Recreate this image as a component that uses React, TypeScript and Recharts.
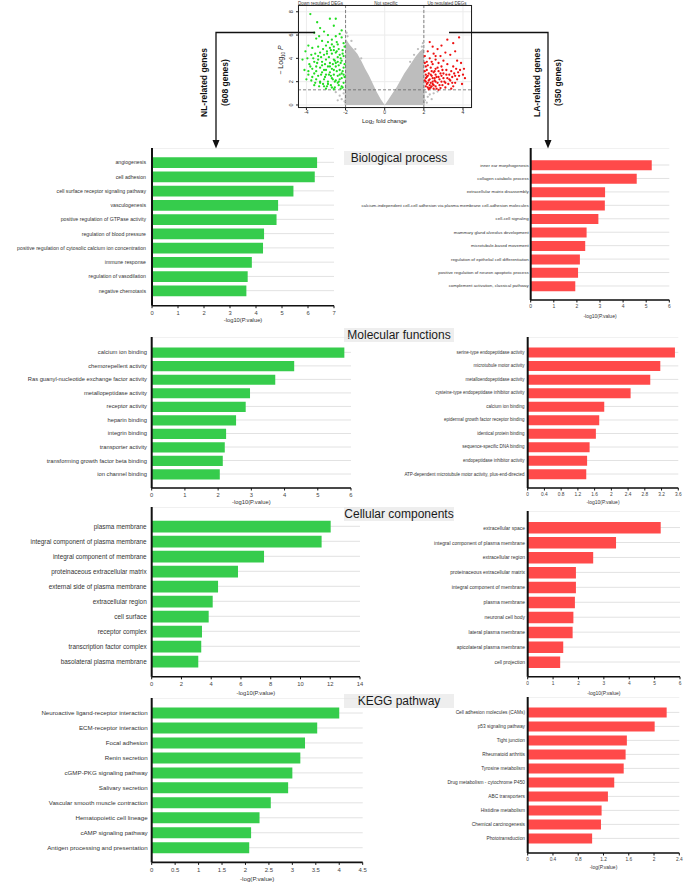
import React from "react";
import {
  Area,
  Bar,
  BarChart,
  CartesianGrid,
  ComposedChart,
  ReferenceLine,
  Scatter,
  XAxis,
  YAxis,
} from "recharts";

const FONT = '"Liberation Sans", Arial, sans-serif';
const GREEN = "#36cc4c";
const RED = "#ff4a4a";
const GRAY = "#bdbdbd";

// ---- volcano plot ----
const notSpecificX = [-2.05, -2.0, -1.8, -1.6, -1.4, -1.2, -1.0, -0.8, -0.6, -0.4, -0.2, 0, 0.2, 0.4, 0.6, 0.8, 1.0, 1.2, 1.4, 1.6, 1.8, 2.0, 2.05];
const notSpecificTop = [0, 5.7, 5.2, 4.8, 4.4, 3.8, 3.1, 2.5, 1.8, 1.1, 0.5, 0, 0.5, 1.0, 1.5, 2.1, 2.7, 3.2, 3.7, 4.2, 4.6, 4.9, 0];
const notSpecificPts: [number, number][] = [
  [2.1, 1.1], [2.3, 0.9], [2.5, 1.0], [2.2, 0.7], [2.4, 0.5], [2.05, 0.4], [2.7, 1.15], [2.15, 0.2],
  [-2.1, 1.0], [-2.3, 0.8], [-2.2, 0.5], [-2.5, 1.1], [-2.05, 0.3], [-2.4, 0.4],
  [-1.9, 5.9], [-1.7, 5.5], [-1.95, 6.2], [1.9, 5.0], [1.7, 4.8], [1.95, 5.3], [-1.5, 4.8], [1.5, 4.3], [-1.2, 4.0], [1.3, 3.7],
];
const downRegulated: [number, number][] = [
  [-3.8, 7.8], [-3.45, 7.1], [-2.8, 7.4], [-2.5, 7.4], [-3.3, 6.6], [-2.6, 6.8], [-3.6, 6.2], [-3.1, 6.3], [-2.9, 6.0], [-2.3, 6.1],
  [-2.2, 5.8], [-3.5, 5.7], [-3.2, 5.5], [-2.7, 5.6], [-2.45, 5.4], [-2.1, 5.3], [-4.05, 4.6], [-3.9, 5.1], [-3.7, 4.9], [-3.4, 5.0],
  [-3.0, 5.1], [-2.8, 4.9], [-2.6, 5.0], [-2.35, 4.8], [-2.15, 4.7], [-4.2, 3.9], [-3.95, 4.0], [-3.75, 4.3], [-3.55, 4.4], [-3.3, 4.5],
  [-3.1, 4.3], [-2.95, 4.6], [-2.7, 4.4], [-2.5, 4.5], [-2.3, 4.3], [-2.1, 4.2], [-3.85, 3.5], [-3.6, 3.7], [-3.4, 3.9], [-3.2, 3.7],
  [-3.0, 3.9], [-2.8, 3.6], [-2.6, 3.9], [-2.4, 3.7], [-2.2, 3.8], [-2.05, 3.5], [-4.1, 3.0], [-3.7, 3.1], [-3.5, 3.3], [-3.3, 3.2],
  [-3.1, 3.0], [-2.9, 3.3], [-2.7, 3.1], [-2.5, 3.3], [-2.3, 3.0], [-2.1, 3.2], [-3.9, 2.6], [-3.6, 2.7], [-3.4, 2.5], [-3.2, 2.8],
  [-3.0, 2.6], [-2.8, 2.8], [-2.6, 2.6], [-2.4, 2.5], [-2.2, 2.7], [-2.05, 2.4], [-4.0, 2.2], [-3.75, 2.1], [-3.5, 2.2], [-3.3, 2.0],
  [-3.1, 2.2], [-2.9, 2.0], [-2.7, 2.3], [-2.5, 2.1], [-2.3, 2.2], [-2.1, 1.9], [-3.6, 1.7], [-3.35, 1.6], [-3.15, 1.8], [-2.95, 1.6],
  [-2.75, 1.7], [-2.55, 1.5], [-2.35, 1.7], [-2.15, 1.5], [-3.0, 1.4], [-2.6, 1.35], [-2.25, 1.4], [-2.45, 2.9], [-2.65, 3.5], [-2.85, 4.1],
  [-2.25, 4.0], [-2.4, 4.1], [-2.55, 2.0], [-2.75, 2.5], [-2.2, 2.3], [-2.35, 3.4], [-2.15, 2.9], [-3.05, 3.5], [-3.25, 4.1], [-2.5, 5.9],
  [-2.05, 5.0], [-2.15, 4.4], [-2.25, 3.6], [-2.3, 2.6], [-2.4, 1.9], [-2.45, 4.6], [-2.55, 3.8], [-2.6, 3.0], [-2.65, 2.2], [-2.7, 1.5],
  [-2.75, 4.7], [-2.8, 3.3], [-2.85, 2.6], [-2.9, 1.8], [-2.95, 4.4], [-3.0, 3.0], [-3.05, 2.4], [-3.1, 1.6], [-3.15, 4.8], [-3.2, 3.4],
  [-3.25, 2.6], [-3.3, 1.9], [-3.4, 4.2], [-3.45, 3.6], [-3.5, 2.9], [-3.55, 1.9], [-3.65, 4.0], [-3.7, 2.4], [-3.8, 3.3], [-3.9, 2.9],
  [-2.1, 2.6], [-2.2, 1.6], [-2.35, 2.0], [-2.5, 3.6], [-2.6, 4.7], [-2.9, 5.4], [-3.35, 5.9], [-2.4, 5.2], [-2.7, 5.2], [-2.2, 6.4],
];
const upRegulated: [number, number][] = [
  [3.8, 5.8], [3.2, 5.6], [3.5, 5.3], [2.3, 5.4], [2.45, 5.0], [2.9, 5.1], [3.6, 4.6], [2.7, 4.8], [2.2, 4.6], [3.1, 4.5],
  [3.35, 4.3], [2.5, 4.4], [2.05, 4.2], [2.85, 4.2], [3.9, 3.6], [3.7, 3.8], [2.3, 4.0], [2.6, 3.9], [3.0, 3.8], [2.15, 3.7],
  [2.45, 3.5], [2.75, 3.6], [3.2, 3.5], [3.5, 3.3], [4.05, 3.1], [3.85, 3.0], [2.1, 3.3], [2.35, 3.2], [2.6, 3.1], [2.9, 3.3],
  [3.15, 3.0], [3.4, 2.9], [3.65, 3.1], [2.05, 2.9], [2.25, 2.7], [2.5, 2.8], [2.75, 2.9], [3.0, 2.7], [3.3, 2.6], [3.55, 2.7],
  [3.8, 2.5], [4.1, 2.3], [2.15, 2.4], [2.4, 2.5], [2.65, 2.4], [2.9, 2.5], [3.2, 2.3], [3.45, 2.4], [3.7, 2.2], [2.05, 2.1],
  [2.3, 2.2], [2.55, 2.1], [2.8, 2.2], [3.05, 2.0], [3.35, 2.1], [3.6, 1.9], [3.95, 1.8], [2.2, 1.9], [2.45, 1.8], [2.7, 1.9],
  [2.95, 1.7], [3.25, 1.8], [3.5, 1.6], [2.1, 1.6], [2.35, 1.5], [2.6, 1.6], [2.85, 1.45], [3.1, 1.5], [3.4, 1.4], [2.25, 1.35],
  [2.5, 1.4], [2.75, 1.3], [2.15, 3.0], [2.4, 2.9], [2.2, 2.5], [2.6, 2.6], [2.3, 1.7], [2.55, 2.3], [2.1, 2.0], [2.45, 2.0],
  [2.05, 3.6], [2.1, 2.6], [2.15, 1.8], [2.2, 3.4], [2.25, 2.1], [2.3, 1.45], [2.35, 2.6], [2.4, 3.7], [2.45, 2.3], [2.5, 1.7],
  [2.55, 2.9], [2.6, 2.0], [2.65, 1.4], [2.7, 3.2], [2.75, 2.4], [2.8, 1.7], [2.85, 2.7], [2.9, 2.0], [2.95, 3.0], [3.0, 2.3],
  [3.1, 1.9], [3.15, 2.6], [3.3, 2.2], [3.45, 1.9], [3.6, 2.5], [3.75, 2.8], [2.2, 1.5], [2.4, 1.6], [2.1, 2.3], [2.35, 1.9],
  [4.0, 2.6], [2.6, 4.2],
];
const volcanoXTicks = [-4, -2, 0, 2, 4];
const volcanoYTicks = [0, 2, 4, 6, 8];

// ---- GO / KEGG enrichment ----
const bpNlTerms = [
  "angiogenesis", "cell adhesion", "cell surface receptor signaling pathway", "vasculogenesis",
  "positive regulation of GTPase activity", "regulation of blood pressure",
  "positive regulation of cytosolic calcium ion concentration", "immune response",
  "regulation of vasodilation", "negative chemotaxis",
];
const bpNlValues = [6.35, 6.26, 5.44, 4.85, 4.79, 4.31, 4.27, 3.84, 3.68, 3.63];
const bpLaTerms = [
  "inner ear morphogenesis", "collagen catabolic process", "extracellular matrix disassembly",
  "calcium-independent cell-cell adhesion via plasma membrane cell-adhesion molecules",
  "cell-cell signaling", "mammary gland alveolus development", "microtubule-based movement",
  "regulation of epithelial cell differentiation", "positive regulation of neuron apoptotic process",
  "complement activation, classical pathway",
];
const bpLaValues = [5.24, 4.59, 3.22, 3.21, 2.93, 2.42, 2.36, 2.13, 2.05, 1.93];

const mfNlTerms = [
  "calcium ion binding", "chemorepellent activity", "Ras guanyl-nucleotide exchange factor activity",
  "metallopeptidase activity", "receptor activity", "heparin binding", "integrin binding",
  "transporter activity", "transforming growth factor beta binding", "ion channel binding",
];
const mfNlValues = [5.8, 4.29, 3.72, 2.96, 2.83, 2.54, 2.24, 2.2, 2.14, 2.05];
const mfLaTerms = [
  "serine-type endopeptidase activity", "microtubule motor activity", "metalloendopeptidase activity",
  "cysteine-type endopeptidase inhibitor activity", "calcium ion binding",
  "epidermal growth factor receptor binding", "identical protein binding", "sequence-specific DNA binding",
  "endopeptidase inhibitor activity", "ATP-dependent microtubule motor activity, plus-end-directed",
];
const mfLaValues = [3.52, 3.17, 2.93, 2.46, 1.83, 1.71, 1.63, 1.48, 1.42, 1.4];

const ccNlTerms = [
  "plasma membrane", "integral component of plasma membrane", "integral component of membrane",
  "proteinaceous extracellular matrix", "external side of plasma membrane", "extracellular region",
  "cell surface", "receptor complex", "transcription factor complex", "basolateral plasma membrane",
];
const ccNlValues = [12.03, 11.42, 7.55, 5.8, 4.46, 4.1, 3.83, 3.38, 3.33, 3.13];
const ccLaTerms = [
  "extracellular space", "integral component of plasma membrane", "extracellular region",
  "proteinaceous extracellular matrix", "integral component of membrane", "plasma membrane",
  "neuronal cell body", "lateral plasma membrane", "apicolateral plasma membrane", "cell projection",
];
const ccLaValues = [5.24, 3.48, 2.58, 1.9, 1.9, 1.86, 1.8, 1.77, 1.4, 1.28];

const keggNlTerms = [
  "Neuroactive ligand-receptor interaction", "ECM-receptor interaction", "Focal adhesion",
  "Renin secretion", "cGMP-PKG signaling pathway", "Salivary secretion",
  "Vascular smooth muscle contraction", "Hematopoietic cell lineage", "cAMP signaling pathway",
  "Antigen processing and presentation",
];
const keggNlValues = [4.0, 3.53, 3.27, 3.17, 3.0, 2.91, 2.54, 2.3, 2.12, 2.08];
const keggLaTerms = [
  "Cell adhesion molecules (CAMs)", "p53 signaling pathway", "Tight junction", "Rheumatoid arthritis",
  "Tyrosine metabolism", "Drug metabolism - cytochrome P450", "ABC transporters",
  "Histidine metabolism", "Chemical carcinogenesis", "Phototransduction",
];
const keggLaValues = [2.2, 2.01, 1.57, 1.55, 1.52, 1.37, 1.27, 1.17, 1.16, 1.02];

const ticks7 = [0, 1, 2, 3, 4, 5, 6, 7];
const ticks6 = [0, 1, 2, 3, 4, 5, 6];
const ticks36 = [0, 0.4, 0.8, 1.2, 1.6, 2, 2.4, 2.8, 3.2, 3.6];
const ticks14 = [0, 2, 4, 6, 8, 10, 12, 14];
const ticks45 = [0, 0.5, 1, 1.5, 2, 2.5, 3, 3.5, 4, 4.5];
const ticks24 = [0, 0.4, 0.8, 1.2, 1.6, 2, 2.4];

type PanelProps = {
  names: string[];
  values: number[];
  color: string;
  left: number;
  axisX: number;
  plotRight: number;
  plotTop: number;
  plotBottom: number;
  padTop: number;
  padBottom: number;
  barSize: number;
  ticks: number[];
  labelSize: number;
  tickFont: number;
  gap: number;
  xLabel: string;
  xLabelY: number;
  xLabelSize: number;
};

const Panel = (p: PanelProps) => {
  const data = p.names.map((name, i) => ({ name, value: p.values[i] }));
  const height = p.xLabelY + 6 - p.plotTop;
  const width = p.plotRight - p.left + 10;
  const xAxisHeight = height - (p.plotBottom - p.plotTop);
  const labelX = (p.axisX + p.plotRight) / 2 - p.left;
  return (
    <div style={{ position: "absolute", left: p.left, top: p.plotTop }}>
      <BarChart
        layout="vertical"
        width={width}
        height={height}
        data={data}
        margin={{ top: 0, right: 10, left: 0, bottom: 0 }}
      >
        <CartesianGrid vertical={false} stroke="#e2e2e2" />
        <XAxis
          type="number"
          domain={[0, p.ticks[p.ticks.length - 1]]}
          ticks={p.ticks}
          interval={0}
          allowDataOverflow
          height={xAxisHeight}
          axisLine={{ stroke: "#111", strokeWidth: 1.6 }}
          tickLine={{ stroke: "#111" }}
          tickSize={2.5}
          tick={({ x, y, payload }: any) => (
            <text x={x} y={y + p.tickFont * 0.8} textAnchor="middle" fontSize={p.tickFont} fill="#444" fontFamily={FONT}>
              {payload.value}
            </text>
          )}
          label={{
            content: () => (
              <text
                x={labelX}
                y={p.xLabelY - p.plotTop}
                textAnchor="middle"
                dominantBaseline="central"
                fontSize={p.xLabelSize}
                fill="#333"
                fontFamily={FONT}
              >
                {p.xLabel}
              </text>
            ),
          }}
        />
        <YAxis
          type="category"
          dataKey="name"
          width={p.axisX - p.left}
          padding={{ top: p.padTop, bottom: p.padBottom }}
          interval={0}
          axisLine={{ stroke: "#111", strokeWidth: 2 }}
          tickLine={false}
          tickSize={0}
          tickMargin={p.gap}
          tick={({ x, y, payload }: any) => (
            <text x={x} y={y} textAnchor="end" dominantBaseline="central" fontSize={p.labelSize} fill="#333" fontFamily={FONT}>
              {payload.value}
            </text>
          )}
        />
        <Bar dataKey="value" fill={p.color} barSize={p.barSize} isAnimationActive={false} />
      </BarChart>
    </div>
  );
};

const dot = (color: string) => (props: any) => <circle cx={props.cx} cy={props.cy} r={1.15} fill={color} />;

const Volcano = () => {
  const envelope = notSpecificX.map((x, i) => ({ x, top: notSpecificTop[i] }));
  const toPts = (arr: [number, number][]) => arr.map(([x, y]) => ({ x, y }));
  return (
    <div style={{ position: "absolute", left: 262, top: 0 }}>
      <ComposedChart width={215} height={125} data={envelope} margin={{ top: 5, right: 5, left: 0, bottom: 0 }}>
        <CartesianGrid stroke="#ececec" />
        <XAxis
          type="number"
          dataKey="x"
          domain={[-4.43, 4.46]}
          ticks={volcanoXTicks}
          allowDataOverflow
          height={17}
          axisLine={false}
          tickLine={{ stroke: "#222" }}
          tickSize={2}
          tickMargin={1}
          tick={({ x, y, payload }: any) => (
            <text x={x} y={y + 3.2} textAnchor="middle" fontSize={5} fill="#333" fontFamily={FONT}>
              {payload.value}
            </text>
          )}
        />
        <YAxis
          type="number"
          dataKey="y"
          domain={[-0.26, 8.58]}
          ticks={volcanoYTicks}
          allowDataOverflow
          width={36}
          axisLine={false}
          tickLine={{ stroke: "#222" }}
          tickSize={2}
          tick={({ x, y, payload }: any) => (
            <text
              x={x - 1}
              y={y}
              transform={`rotate(-90 ${x - 1} ${y})`}
              textAnchor="middle"
              fontSize={5.5}
              fill="#333"
              fontFamily={FONT}
            >
              {payload.value}
            </text>
          )}
        />
        <Area dataKey="top" type="linear" fill={GRAY} fillOpacity={1} stroke="none" isAnimationActive={false} />
        <Scatter data={toPts(notSpecificPts)} shape={dot(GRAY)} isAnimationActive={false} />
        <Scatter data={toPts(downRegulated)} shape={dot("#22dd22")} isAnimationActive={false} />
        <Scatter data={toPts(upRegulated)} shape={dot("#ee1111")} isAnimationActive={false} />
        <ReferenceLine x={-2} stroke="#666" strokeDasharray="3 2" strokeWidth={0.8} />
        <ReferenceLine x={2} stroke="#666" strokeDasharray="3 2" strokeWidth={0.8} />
        <ReferenceLine y={1.3} stroke="#666" strokeDasharray="3 2" strokeWidth={0.8} />
      </ComposedChart>
    </div>
  );
};

const Title = ({ text, top }: { text: string; top: number }) => (
  <div
    style={{
      position: "absolute",
      left: 344,
      top,
      width: 110,
      height: 14,
      lineHeight: "14px",
      background: "#eeeeee",
      textAlign: "center",
      fontSize: 12,
      color: "#1a1a1a",
      fontFamily: FONT,
    }}
  >
    {text}
  </div>
);

const App = () => {
  return (
    <div style={{ position: "relative", width: 684, height: 883, overflow: "hidden", background: "#fff", fontFamily: FONT }}>
      <style>{"body{margin:0}"}</style>
      <Volcano />
      <div
        style={{
          position: "absolute",
          left: 298,
          top: 5,
          width: 174,
          height: 103,
          border: "0.8px solid #222",
          boxSizing: "border-box",
          pointerEvents: "none",
        }}
      />

      <Title text="Biological process" top={150.5} />
      <Title text="Molecular functions" top={328} />
      <Title text="Cellular components" top={507} />
      <Title text="KEGG pathway" top={693.5} />

      <Panel names={bpNlTerms} values={bpNlValues} color={GREEN} left={0} axisX={152} plotRight={334} plotTop={148} plotBottom={305.7}
        padTop={7.2} padBottom={7.9} barSize={10.7} ticks={ticks7} labelSize={5.2} tickFont={5.8} gap={6}
        xLabel="-log10(P.value)" xLabelY={320} xLabelSize={5.8} />
      <Panel names={bpLaTerms} values={bpLaValues} color={RED} left={340} axisX={530.7} plotRight={669.3} plotTop={148} plotBottom={300}
        padTop={10.3} padBottom={7.3} barSize={10} ticks={ticks6} labelSize={4.4} tickFont={5} gap={2}
        xLabel="-log10(P.value)" xLabelY={316} xLabelSize={5} />

      <Panel names={mfNlTerms} values={mfNlValues} color={GREEN} left={0} axisX={151.7} plotRight={351} plotTop={337.3} plotBottom={488.3}
        padTop={8.6} padBottom={7.2} barSize={10.2} ticks={ticks6} labelSize={5.8} tickFont={5.8} gap={4.7}
        xLabel="-log10(P.value)" xLabelY={502.7} xLabelSize={5.8} />
      <Panel names={mfLaTerms} values={mfLaValues} color={RED} left={340} axisX={527.7} plotRight={678.3} plotTop={337.3} plotBottom={488.3}
        padTop={8.6} padBottom={7.2} barSize={10} ticks={ticks36} labelSize={4.5} tickFont={4.8} gap={3.3}
        xLabel="-log10(P.value)" xLabelY={502.7} xLabelSize={5} />

      <Panel names={ccNlTerms} values={ccNlValues} color={GREEN} left={0} axisX={151.7} plotRight={360} plotTop={506.7} plotBottom={676.5}
        padTop={11.8} padBottom={8} barSize={11.7} ticks={ticks14} labelSize={6.4} tickFont={5.8} gap={5}
        xLabel="-log10(P.value)" xLabelY={692.7} xLabelSize={5.8} />
      <Panel names={ccLaTerms} values={ccLaValues} color={RED} left={340} axisX={527.7} plotRight={680} plotTop={510.7} plotBottom={676.5}
        padTop={9.1} padBottom={7.3} barSize={11.5} ticks={ticks6} labelSize={5} tickFont={4.8} gap={2.7}
        xLabel="-log10(P.value)" xLabelY={692.7} xLabelSize={5} />

      <Panel names={keggNlTerms} values={keggNlValues} color={GREEN} left={0} axisX={151.7} plotRight={362.7} plotTop={698.3} plotBottom={862.7}
        padTop={7.5} padBottom={7.2} barSize={11} ticks={ticks45} labelSize={6.2} tickFont={6} gap={4}
        xLabel="-log(P.value)" xLabelY={879.3} xLabelSize={6.2} />
      <Panel names={keggLaTerms} values={keggLaValues} color={RED} left={340} axisX={527.7} plotRight={679.3} plotTop={697.3} plotBottom={853.3}
        padTop={8.4} padBottom={7.6} barSize={10} ticks={ticks24} labelSize={4.8} tickFont={4.8} gap={2.7}
        xLabel="-log(P.value)" xLabelY={867.3} xLabelSize={5} />

      <svg width={684} height={883} style={{ position: "absolute", left: 0, top: 0, pointerEvents: "none" }}>
        <text x={320.5} y={5} textAnchor="middle" fontSize={4.5} fill="#333" fontFamily={FONT}>Down regulated DEGs</text>
        <text x={386} y={5} textAnchor="middle" fontSize={4.5} fill="#333" fontFamily={FONT}>Not specific</text>
        <text x={447} y={5} textAnchor="middle" fontSize={4.5} fill="#333" fontFamily={FONT}>Up regulated DEGs</text>
        <text transform="translate(283,60) rotate(-90)" textAnchor="middle" fontSize={7} fill="#222" fontFamily={FONT}>
          − Log<tspan fontSize={4.5} dy={1.5}>10</tspan><tspan dy={-1.5} fontStyle="italic"> P</tspan>
        </text>
        <text x={384.5} y={122.5} textAnchor="middle" fontSize={6} fill="#222" fontFamily={FONT}>
          Log<tspan fontSize={4} dy={1.2}>2</tspan><tspan dy={-1.2}> fold change</tspan>
        </text>

        <polyline points="315,32.5 216,32.5 216,141" fill="none" stroke="#111" strokeWidth={1.3} />
        <polygon points="212.5,140 219.5,140 216,148.5" fill="#111" />
        <polyline points="449,32.5 548,32.5 548,141" fill="none" stroke="#111" strokeWidth={1.3} />
        <polygon points="544.5,140 551.5,140 548,148.5" fill="#111" />

        <text transform="translate(207,82.5) rotate(-90)" textAnchor="middle" fontSize={8.5} fontWeight="bold" fill="#111" fontFamily={FONT}>
          NL-related genes
        </text>
        <text transform="translate(228,82.5) rotate(-90)" textAnchor="middle" fontSize={8.5} fontWeight="bold" fill="#111" fontFamily={FONT}>
          (608 genes)
        </text>
        <text transform="translate(540,82.5) rotate(-90)" textAnchor="middle" fontSize={8.5} fontWeight="bold" fill="#111" fontFamily={FONT}>
          LA-related genes
        </text>
        <text transform="translate(561,82.5) rotate(-90)" textAnchor="middle" fontSize={8.5} fontWeight="bold" fill="#111" fontFamily={FONT}>
          (350 genes)
        </text>
      </svg>
    </div>
  );
};

export default App;
